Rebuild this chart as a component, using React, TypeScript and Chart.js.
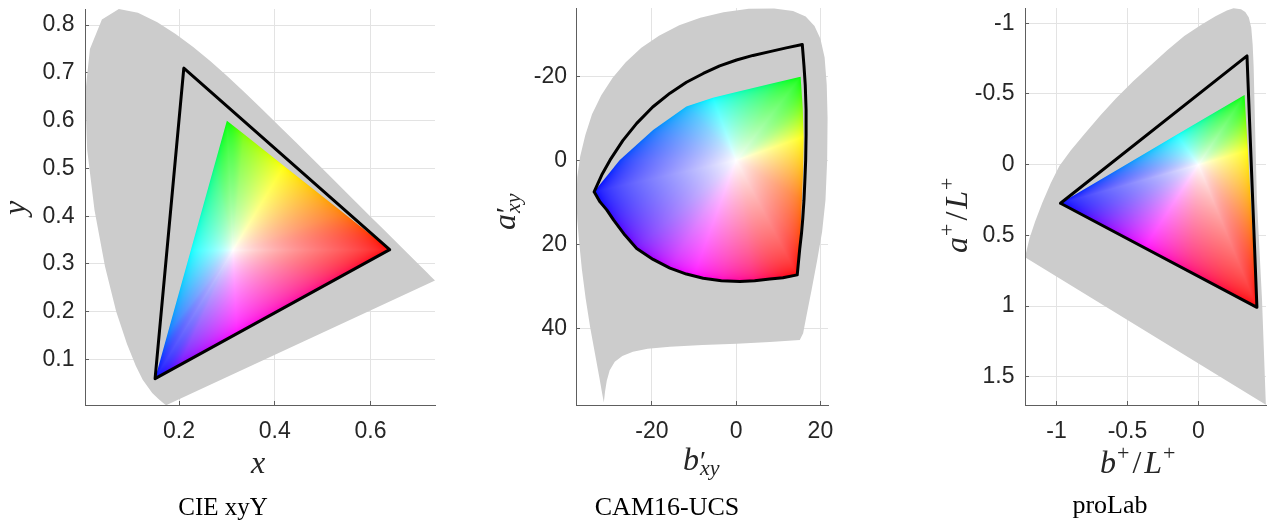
import React, { useEffect, useRef } from 'react';
import { Chart, registerables } from 'chart.js';

Chart.register(...registerables);

const PAGE_W = 1269;
const PAGE_H = 523;

const GRAY = '#cccccc';
const GRID = '#e3e3e3';
const AXIS = '#5e5e5e';
const TEXT = '#262626';
const TICK_FONT = 'Liberation Sans';
const MATH_FONT = 'Liberation Serif';

// ---------------- CIE xyY ----------------
const XY_LOCUS: number[][] = [
  [0.1741, 0.005], [0.1714, 0.0051], [0.1644, 0.0109], [0.1566, 0.0177], [0.144, 0.0297],
  [0.1241, 0.0578], [0.1096, 0.0868], [0.0913, 0.1327], [0.0687, 0.2007], [0.0454, 0.295],
  [0.0235, 0.4127], [0.0082, 0.5384], [0.0039, 0.6548], [0.0139, 0.7502], [0.0389, 0.812],
  [0.0743, 0.8338], [0.1142, 0.8262], [0.1547, 0.8059], [0.1929, 0.7816], [0.2296, 0.7543],
  [0.2658, 0.7243], [0.3016, 0.6923], [0.3373, 0.6589], [0.3731, 0.6245], [0.4087, 0.5896],
  [0.4441, 0.5547], [0.4788, 0.5202], [0.5125, 0.4866], [0.5448, 0.4544], [0.5752, 0.4242],
  [0.6029, 0.3965], [0.627, 0.3725], [0.6658, 0.334], [0.6915, 0.3083], [0.7079, 0.292],
  [0.719, 0.2809], [0.726, 0.274], [0.7347, 0.2653],
];
const XY_WIDE: number[][] = [[0.64, 0.33], [0.21, 0.71], [0.15, 0.06], [0.64, 0.33]];
const XY_SRGB: number[][] = [
  [0.64, 0.33], [0.5436, 0.4066], [0.4193, 0.5053], [0.3353, 0.572], [0.3, 0.6], [0.2733, 0.5041],
  [0.2247, 0.3287], [0.1762, 0.1545], [0.15, 0.06], [0.2004, 0.0878], [0.3209, 0.1542], [0.5001, 0.2529],
];
const XY_SRGB_HUE: number[] = [0, 30, 60, 90, 120, 150, 180, 210, 240, 270, 300, 330];
const XY_WHITE: number[] = [0.3127, 0.329];
const XY_X_RANGE: number[] = [0.0036, 0.7347];
const XY_Y_RANGE: number[] = [0.0048, 0.8338];
const XY_X_TICKS: number[] = [0.2, 0.4, 0.6];
const XY_X_LABELS: string[] = ['0.2', '0.4', '0.6'];
const XY_Y_TICKS: number[] = [0.1, 0.2, 0.3, 0.4, 0.5, 0.6, 0.7, 0.8];
const XY_Y_LABELS: string[] = ['0.1', '0.2', '0.3', '0.4', '0.5', '0.6', '0.7', '0.8'];

// ---------------- CAM16-UCS ----------------
const UCS_LOCUS: number[][] = [
  [-37.9, 9.5], [-37.7, 4.0], [-37.0, -1.0], [-35.8, -6.0], [-34.2, -11.0], [-32.0, -15.5],
  [-29.3, -19.7], [-26.2, -23.4], [-22.5, -26.8], [-18.3, -29.7], [-13.5, -32.2], [-8.5, -34.0],
  [-3.0, -35.3], [3.0, -36.1], [9.0, -36.2], [13.5, -35.6], [16.5, -34.3], [18.6, -32.0],
  [20.0, -29.0], [21.0, -24.5], [21.5, -18.0], [21.7, -10.0], [21.6, 0.0], [21.2, 9.5],
  [20.4, 17.0], [19.2, 24.0], [17.9, 30.9], [16.6, 37.5], [15.9, 41.2], [15.1, 42.8],
  [8.0, 43.3], [0.1, 43.7], [-8.0, 44.0], [-15.7, 44.4], [-21.0, 44.9], [-24.5, 45.6],
  [-27.0, 46.6], [-28.8, 48.0], [-30.0, 50.0], [-30.7, 52.5], [-31.1, 55.0], [-31.4, 57.7],
  [-31.8, 55.5], [-32.5, 51.5], [-33.5, 46.0], [-34.6, 40.0], [-35.7, 33.0], [-36.6, 26.0],
  [-37.3, 19.0], [-37.7, 14.0],
];
const UCS_WIDE: number[][] = [
  [-33.7, 7.5], [-31.9, 3.5], [-29.9, -0.1], [-26.9, -4.7], [-23.6, -8.8], [-19.8, -12.7],
  [-15.7, -16.0], [-11.8, -18.6], [-7.8, -20.7], [-3.9, -22.5], [0.1, -23.9], [4.0, -25.0],
  [8.0, -25.9], [11.9, -26.8], [15.7, -27.6], [16.1, -22.5], [16.4, -18.0], [16.6, -12.0],
  [16.6, -6.0], [16.5, 0.0], [16.3, 5.0], [16.1, 9.5], [15.8, 14.0], [15.5, 17.5],
  [15.1, 21.0], [14.5, 27.3], [11.1, 28.0], [8.0, 28.3], [4.4, 28.7], [0.9, 28.9],
  [-3.5, 28.7], [-7.8, 28.1], [-11.8, 27.1], [-15.7, 25.7], [-19.7, 23.6], [-23.6, 21.0],
  [-26.4, 17.8], [-29.1, 14.2], [-30.7, 11.8], [-32.3, 9.9], [-33.7, 7.5],
];
const UCS_SRGB: number[][] = [
  [14.5, 27.3], [15.1, 20.0], [15.6, 9.5], [15.9, 2.0], [16.0, -5.6], [15.8, -12.5], [15.3, -19.9],
  [8.0, -18.2], [0.1, -16.3], [-5.5, -14.9], [-11.8, -12.8], [-19.7, -7.2], [-27.6, -0.1], [-33.7, 7.5],
  [-32.3, 9.9], [-29.1, 14.2], [-23.6, 21.0], [-15.7, 25.7], [-10.0, 27.4], [-3.0, 28.6], [4.0, 28.7], [9.0, 28.2],
];
const UCS_SRGB_HUE: number[] = [0, 15, 30, 45, 60, 90, 120, 145, 165, 180, 195, 210, 225, 240, 245, 255, 270, 290, 300, 315, 330, 345];
const UCS_WHITE: number[] = [0, 0];
const UCS_X_RANGE: number[] = [-38.0, 21.8];
const UCS_Y_RANGE: number[] = [-36.3, 58.3];
const UCS_X_TICKS: number[] = [-20, 0, 20];
const UCS_X_LABELS: string[] = ['-20', '0', '20'];
const UCS_Y_TICKS: number[] = [-20, 0, 20, 40];
const UCS_Y_LABELS: string[] = ['-20', '0', '20', '40'];

// ---------------- proLab ----------------
const PRO_LOCUS: number[][] = [
  [0.247, -1.106], [0.3, -1.1], [0.33, -1.08], [0.355, -1.04], [0.372, -0.97], [0.382, -0.85],
  [0.389, -0.693], [0.4, -0.222], [0.412, 0.25], [0.448, 0.957], [0.475, 1.698],
  [-1.222, 0.655], [-1.19, 0.52], [-1.15, 0.4], [-1.1, 0.27], [-1.04, 0.13], [-0.98, 0.01],
  [-0.9, -0.1], [-0.8, -0.22], [-0.69, -0.35], [-0.58, -0.47], [-0.46, -0.59], [-0.34, -0.7],
  [-0.22, -0.81], [-0.1, -0.91], [0.02, -0.99], [0.12, -1.05], [0.2, -1.09],
];
const PRO_WIDE: number[][] = [[-0.972, 0.273], [0.342, -0.769], [0.412, 1.009], [-0.972, 0.273]];
const PRO_SRGB: number[][] = [
  [0.412, 1.009], [0.38, 0.45], [0.348, -0.1], [0.336, -0.3], [0.325, -0.493], [0.09, -0.354],
  [-0.153, -0.211], [-0.55, 0.024], [-0.972, 0.273], [-0.68, 0.428], [-0.38, 0.588], [-0.05, 0.763],
];
const PRO_SRGB_HUE: number[] = [0, 30, 60, 90, 120, 150, 180, 210, 240, 270, 300, 330];
const PRO_WHITE: number[] = [0, 0];
const PRO_X_RANGE: number[] = [-1.222, 0.476];
const PRO_Y_RANGE: number[] = [-1.108, 1.7];
const PRO_X_TICKS: number[] = [-1, -0.5, 0];
const PRO_X_LABELS: string[] = ['-1', '-0.5', '0'];
const PRO_Y_TICKS: number[] = [-1, -0.5, 0, 0.5, 1, 1.5];
const PRO_Y_LABELS: string[] = ['-1', '-0.5', '0', '0.5', '1', '1.5'];

// ---------------- helpers ----------------
type Piece = { t: string; size: number; italic?: boolean; rise?: number; gap?: number; stack?: boolean };

interface PanelSpec {
  area: number[];
  yAxisW: number;
  xAxisH: number;
  xRange: number[];
  yRange: number[];
  yReverse: boolean;
  xTicks: number[];
  xLabels: string[];
  yTicks: number[];
  yLabels: string[];
  gamut: number[][];
  outline: number[][];
  colorPts: number[][];
  colorHues: number[];
  white: number[];
  k: number;
  xPad: number;
  yPad: number;
  xTitle: Piece[];
  xTitleAt: number[];
  yTitle: Piece[];
  yTitleAt: number[];
  caption: string;
  captionAt: number[];
  captionSize: number;
}

const toLin = (c: number) => (c <= 0.04045 ? c / 12.92 : Math.pow((c + 0.055) / 1.055, 2.4));
const toEnc = (c: number) => (c <= 0.0031308 ? 12.92 * c : 1.055 * Math.pow(c, 1 / 2.4) - 0.055);

function hueLin(h: number): number[] {
  const hh = ((h % 360) + 360) % 360;
  const f = (n: number) => {
    const k = (n + hh / 60) % 6;
    return 1 - Math.max(0, Math.min(k, 4 - k, 1));
  };
  return [toLin(f(5)), toLin(f(3)), toLin(f(1))];
}

function drawPieces(ctx: CanvasRenderingContext2D, pieces: Piece[], x: number, y: number, rotated: boolean) {
  ctx.save();
  ctx.translate(x, y);
  if (rotated) ctx.rotate(-Math.PI / 2);
  ctx.textAlign = 'left';
  ctx.textBaseline = 'alphabetic';
  let u = 0;
  let stackW = 0;
  for (const p of pieces) {
    ctx.font = `${p.italic ? 'italic ' : ''}${p.size}px "${MATH_FONT}"`;
    u += p.gap || 0;
    ctx.fillText(p.t, u, -(p.rise || 0));
    const w = ctx.measureText(p.t).width;
    if (p.stack) {
      stackW = w;
    } else {
      u += Math.max(w, stackW);
      stackW = 0;
    }
  }
  ctx.restore();
}

function makeColorPlugin(spec: PanelSpec) {
  return {
    id: 'gamutColor',
    afterDatasetDraw(chart: any, args: any) {
      if (args.index !== 1) return;
      const meta = chart.getDatasetMeta(1);
      const pts: number[][] = meta.data.map((e: any) => [e.x, e.y]);
      const n = pts.length;
      if (n < 3) return;
      const xs = chart.scales.x;
      const ys = chart.scales.y;
      const W = [xs.getPixelForValue(spec.white[0]), ys.getPixelForValue(spec.white[1])];
      let minX = Infinity, minY = Infinity, maxX = -Infinity, maxY = -Infinity;
      for (const p of pts) {
        minX = Math.min(minX, p[0]); maxX = Math.max(maxX, p[0]);
        minY = Math.min(minY, p[1]); maxY = Math.max(maxY, p[1]);
      }
      const bx = Math.floor(minX) - 2;
      const by = Math.floor(minY) - 2;
      const bw = Math.ceil(maxX) - bx + 3;
      const bh = Math.ceil(maxY) - by + 3;
      const off = document.createElement('canvas');
      off.width = bw;
      off.height = bh;
      const octx = off.getContext('2d')!;
      const img = octx.createImageData(bw, bh);
      const A = pts.map((p) => [p[0] - W[0], p[1] - W[1]]);
      const hues = spec.colorHues;
      const k = spec.k;
      for (let j = 0; j < bh; j++) {
        for (let i = 0; i < bw; i++) {
          const dx = bx + i + 0.5 - W[0];
          const dy = by + j + 0.5 - W[1];
          let t = 0;
          let h = 0;
          if (dx * dx + dy * dy > 1e-6) {
            for (let s = 0; s < n; s++) {
              const a = A[s];
              const b = A[(s + 1) % n];
              const cab = a[0] * b[1] - a[1] * b[0];
              const s1 = a[0] * dy - a[1] * dx;
              const s2 = dx * b[1] - dy * b[0];
              if ((cab > 0 && s1 >= 0 && s2 >= 0) || (cab < 0 && s1 <= 0 && s2 <= 0)) {
                const ex = b[0] - a[0];
                const ey = b[1] - a[1];
                const cde = dx * ey - dy * ex;
                const cae = a[0] * ey - a[1] * ex;
                t = cae !== 0 ? cde / cae : 0;
                const u = cde !== 0 ? s1 / cde : 0;
                const h1 = hues[s];
                const h2 = s + 1 < n ? hues[s + 1] : hues[0] + 360;
                h = h1 + Math.max(0, Math.min(1, u)) * (h2 - h1);
                break;
              }
            }
          }
          const tt = Math.max(0, Math.min(1, t));
          const w = (tt * (1 + k)) / (1 + k * tt);
          const lin = hueLin(h);
          const o = (j * bw + i) * 4;
          img.data[o] = Math.round(255 * toEnc(1 - w * (1 - lin[0])));
          img.data[o + 1] = Math.round(255 * toEnc(1 - w * (1 - lin[1])));
          img.data[o + 2] = Math.round(255 * toEnc(1 - w * (1 - lin[2])));
          img.data[o + 3] = 255;
        }
      }
      octx.putImageData(img, 0, 0);
      const ctx: CanvasRenderingContext2D = chart.ctx;
      const ca = chart.chartArea;
      ctx.save();
      ctx.beginPath();
      ctx.rect(ca.left, ca.top, ca.right - ca.left, ca.bottom - ca.top);
      ctx.clip();
      ctx.beginPath();
      pts.forEach((p, idx) => (idx ? ctx.lineTo(p[0], p[1]) : ctx.moveTo(p[0], p[1])));
      ctx.closePath();
      ctx.clip();
      ctx.drawImage(off, bx, by);
      ctx.restore();
    },
  };
}

function makeTextPlugin(spec: PanelSpec) {
  return {
    id: 'panelText',
    afterDraw(chart: any) {
      const ctx: CanvasRenderingContext2D = chart.ctx;
      ctx.save();
      ctx.fillStyle = TEXT;
      drawPieces(ctx, spec.xTitle, spec.xTitleAt[0], spec.xTitleAt[1], false);
      drawPieces(ctx, spec.yTitle, spec.yTitleAt[0], spec.yTitleAt[1], true);
      ctx.fillStyle = '#000000';
      ctx.font = `${spec.captionSize}px "${MATH_FONT}"`;
      ctx.textAlign = 'center';
      ctx.textBaseline = 'alphabetic';
      ctx.fillText(spec.caption, spec.captionAt[0], spec.captionAt[1]);
      ctx.restore();
    },
  };
}

function axisOptions(range: number[], ticks: number[], labels: string[], reverse: boolean, pad: number, horizontal: boolean, size: number) {
  return {
    type: 'linear',
    min: range[0],
    max: range[1],
    reverse,
    afterBuildTicks: (s: any) => {
      s.ticks = ticks.map((v) => ({ value: v }));
    },
    afterFit: (s: any) => {
      if (horizontal) s.height = size;
      else s.width = size;
      s.paddingLeft = 0;
      s.paddingRight = 0;
      s.paddingTop = 0;
      s.paddingBottom = 0;
    },
    ticks: {
      autoSkip: false,
      maxRotation: 0,
      minRotation: 0,
      padding: pad,
      color: TEXT,
      font: { family: TICK_FONT, size: 23 },
      callback: (_v: any, i: number) => labels[i],
    },
    grid: { color: GRID, lineWidth: 1, drawTicks: true, tickLength: -4, tickColor: AXIS, tickWidth: 1 },
    border: { display: true, color: AXIS, width: 1, z: 1 },
  };
}

const toXY = (arr: number[][]) => arr.map((p) => ({ x: p[0], y: p[1] }));

function buildConfig(spec: PanelSpec): any {
  const [L, T, R, B] = spec.area;
  return {
    type: 'scatter',
    data: {
      datasets: [
        {
          data: toXY(spec.gamut),
          showLine: true,
          fill: 'shape',
          backgroundColor: GRAY,
          borderColor: GRAY,
          borderWidth: 0,
          pointRadius: 0,
          order: 3,
        },
        {
          data: toXY(spec.colorPts),
          showLine: false,
          pointRadius: 0,
          borderWidth: 0,
          order: 2,
        },
        {
          data: toXY(spec.outline),
          showLine: true,
          fill: false,
          borderColor: '#000000',
          borderWidth: 3,
          borderJoinStyle: 'round',
          borderCapStyle: 'round',
          pointRadius: 0,
          order: 1,
        },
      ],
    },
    options: {
      responsive: false,
      animation: false,
      events: [],
      layout: {
        autoPadding: false,
        padding: { left: L - spec.yAxisW, top: T, right: PAGE_W - R, bottom: PAGE_H - B - spec.xAxisH },
      },
      plugins: {
        legend: { display: false },
        tooltip: { enabled: false },
        title: { display: false },
      },
      scales: {
        x: axisOptions(spec.xRange, spec.xTicks, spec.xLabels, false, spec.xPad, true, spec.xAxisH),
        y: axisOptions(spec.yRange, spec.yTicks, spec.yLabels, spec.yReverse, spec.yPad, false, spec.yAxisW),
      },
    },
    plugins: [makeColorPlugin(spec), makeTextPlugin(spec)],
  };
}

const SPECS: PanelSpec[] = [
  {
    area: [85, 9, 435, 405], yAxisW: 80, xAxisH: 45,
    xRange: XY_X_RANGE, yRange: XY_Y_RANGE, yReverse: false,
    xTicks: XY_X_TICKS, xLabels: XY_X_LABELS, yTicks: XY_Y_TICKS, yLabels: XY_Y_LABELS,
    gamut: XY_LOCUS, outline: XY_WIDE, colorPts: XY_SRGB, colorHues: XY_SRGB_HUE, white: XY_WHITE, k: 2.5,
    xPad: 16.5, yPad: 14.5,
    xTitle: [{ t: 'x', size: 32, italic: true }],
    xTitleAt: [251, 473],
    yTitle: [{ t: 'y', size: 32, italic: true }],
    yTitleAt: [25, 215],
    caption: 'CIE xyY', captionAt: [223, 515], captionSize: 25,
  },
  {
    area: [576, 8, 828, 405], yAxisW: 70, xAxisH: 45,
    xRange: UCS_X_RANGE, yRange: UCS_Y_RANGE, yReverse: true,
    xTicks: UCS_X_TICKS, xLabels: UCS_X_LABELS, yTicks: UCS_Y_TICKS, yLabels: UCS_Y_LABELS,
    gamut: UCS_LOCUS, outline: UCS_WIDE, colorPts: UCS_SRGB, colorHues: UCS_SRGB_HUE, white: UCS_WHITE, k: 1.5,
    xPad: 16.5, yPad: 13,
    xTitle: [
      { t: 'b', size: 32, italic: true },
      { t: '′', size: 28, gap: 1, stack: true },
      { t: 'xy', size: 22, italic: true, rise: -5 },
    ],
    xTitleAt: [683, 470],
    yTitle: [
      { t: 'a', size: 32, italic: true },
      { t: '′', size: 28, gap: 1, stack: true },
      { t: 'xy', size: 22, italic: true, rise: -5 },
    ],
    yTitleAt: [515, 230],
    caption: 'CAM16-UCS', captionAt: [667, 515], captionSize: 26,
  },
  {
    area: [1025, 8, 1266, 405], yAxisW: 70, xAxisH: 45,
    xRange: PRO_X_RANGE, yRange: PRO_Y_RANGE, yReverse: true,
    xTicks: PRO_X_TICKS, xLabels: PRO_X_LABELS, yTicks: PRO_Y_TICKS, yLabels: PRO_Y_LABELS,
    gamut: PRO_LOCUS, outline: PRO_WIDE, colorPts: PRO_SRGB, colorHues: PRO_SRGB_HUE, white: PRO_WHITE, k: 2.0,
    xPad: 16.5, yPad: 14.5,
    xTitle: [
      { t: 'b', size: 32, italic: true },
      { t: '+', size: 22, rise: 13, gap: 1 },
      { t: '/', size: 32, gap: 3 },
      { t: 'L', size: 32, italic: true, gap: 3 },
      { t: '+', size: 22, rise: 13, gap: 1 },
    ],
    xTitleAt: [1100, 473],
    yTitle: [
      { t: 'a', size: 32, italic: true },
      { t: '+', size: 22, rise: 13, gap: 1 },
      { t: '/', size: 32, gap: 3 },
      { t: 'L', size: 32, italic: true, gap: 3 },
      { t: '+', size: 22, rise: 13, gap: 1 },
    ],
    yTitleAt: [967, 253],
    caption: 'proLab', captionAt: [1110, 513], captionSize: 26,
  },
];

function Panel({ spec }: { spec: PanelSpec }) {
  const ref = useRef<HTMLCanvasElement>(null);
  useEffect(() => {
    if (!ref.current) return;
    const chart = new Chart(ref.current, buildConfig(spec));
    return () => chart.destroy();
  }, [spec]);
  return (
    <canvas
      ref={ref}
      width={PAGE_W}
      height={PAGE_H}
      style={{ position: 'absolute', left: 0, top: 0, width: PAGE_W, height: PAGE_H }}
    />
  );
}

export default function App() {
  return (
    <div style={{ position: 'fixed', left: 0, top: 0, width: PAGE_W, height: PAGE_H, background: '#ffffff', overflow: 'hidden' }}>
      {SPECS.map((s, i) => (
        <Panel key={i} spec={s} />
      ))}
    </div>
  );
}
